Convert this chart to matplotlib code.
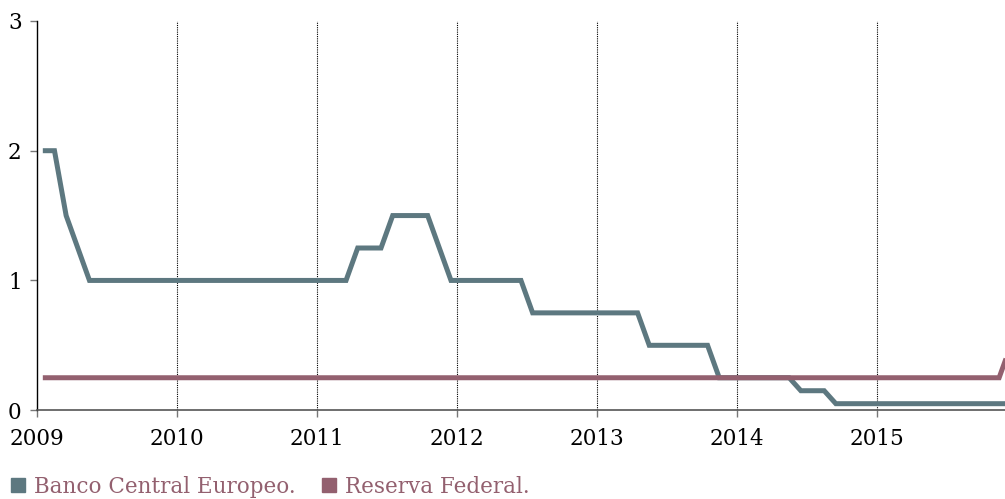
import matplotlib.pyplot as plt
from matplotlib.lines import Line2D
import numpy as np

# Tipos de interes mensuales, ene 2009 - dic 2015
years = [2009, 2010, 2011, 2012, 2013, 2014, 2015]
ecb = [2.0, 2.0, 1.5, 1.25, 1.0, 1.0, 1.0, 1.0, 1.0, 1.0, 1.0, 1.0,          # 2009
       1.0, 1.0, 1.0, 1.0, 1.0, 1.0, 1.0, 1.0, 1.0, 1.0, 1.0, 1.0,           # 2010
       1.0, 1.0, 1.0, 1.25, 1.25, 1.25, 1.5, 1.5, 1.5, 1.5, 1.25, 1.0,       # 2011
       1.0, 1.0, 1.0, 1.0, 1.0, 1.0, 0.75, 0.75, 0.75, 0.75, 0.75, 0.75,     # 2012
       0.75, 0.75, 0.75, 0.75, 0.5, 0.5, 0.5, 0.5, 0.5, 0.5, 0.25, 0.25,     # 2013
       0.25, 0.25, 0.25, 0.25, 0.25, 0.15, 0.15, 0.15, 0.05, 0.05, 0.05, 0.05,  # 2014
       0.05, 0.05, 0.05, 0.05, 0.05, 0.05, 0.05, 0.05, 0.05, 0.05, 0.05, 0.05]  # 2015
fed = [0.25, 0.25, 0.25, 0.25, 0.25, 0.25, 0.25, 0.25, 0.25, 0.25, 0.25, 0.25,
       0.25, 0.25, 0.25, 0.25, 0.25, 0.25, 0.25, 0.25, 0.25, 0.25, 0.25, 0.25,
       0.25, 0.25, 0.25, 0.25, 0.25, 0.25, 0.25, 0.25, 0.25, 0.25, 0.25, 0.25,
       0.25, 0.25, 0.25, 0.25, 0.25, 0.25, 0.25, 0.25, 0.25, 0.25, 0.25, 0.25,
       0.25, 0.25, 0.25, 0.25, 0.25, 0.25, 0.25, 0.25, 0.25, 0.25, 0.25, 0.25,
       0.25, 0.25, 0.25, 0.25, 0.25, 0.25, 0.25, 0.25, 0.25, 0.25, 0.25, 0.25,
       0.25, 0.25, 0.25, 0.25, 0.25, 0.25, 0.25, 0.25, 0.25, 0.25, 0.25, 0.5]
labels = ["Banco Central Europeo.", "Reserva Federal."]

c_ecb = "#5d7880"
c_fed = "#93606f"
c_txt = "#93606f"

# posicion de cada mes (mitad del mes)
x = 2009 + (np.arange(len(ecb)) + 0.5) / 12

plt.rcParams['font.family'] = ['DejaVu Serif']
fig = plt.figure(figsize=(10.05, 4.99), dpi=100)
ax = fig.add_axes([0.0368, 0.178, 0.9632, 0.78])

ax.plot(x, ecb, color=c_ecb, lw=3.6, solid_joinstyle='miter', solid_capstyle='butt')
ax.plot(x, fed, color=c_fed, lw=3.6, solid_joinstyle='miter', solid_capstyle='butt')

ax.set_xlim(2009, 2015.917)
ax.set_ylim(0, 3)
ax.set_xticks(years)
ax.set_xticklabels([str(y) for y in years])
ax.set_yticks([0, 1, 2, 3])

for y in years[1:]:
    ax.axvline(y, color="black", lw=0.8, ls=(0, (1, 1)), zorder=0)

for s in ["top", "right"]:
    ax.spines[s].set_visible(False)
ax.spines["left"].set_color("black")
ax.spines["left"].set_linewidth(1.0)
ax.spines["bottom"].set_color("#555555")
ax.spines["bottom"].set_linewidth(1.2)

ax.tick_params(axis='both', labelsize=15.5, colors="#777777", labelcolor="black",
               length=5, width=1)
ax.tick_params(axis='x', pad=8)
ax.tick_params(axis='y', pad=6)

handles = [Line2D([], [], marker='s', ls='none', color=c_ecb, markersize=10),
           Line2D([], [], marker='s', ls='none', color=c_fed, markersize=10)]
fig.legend(handles, labels, loc='center left', bbox_to_anchor=(0.009, 0.024), ncol=2,
           frameon=False, fontsize=15.5, labelcolor=c_txt, handlelength=0.8,
           handletextpad=0.35, columnspacing=1.15, borderpad=0, borderaxespad=0)

fig.savefig("out.png", dpi=100)
